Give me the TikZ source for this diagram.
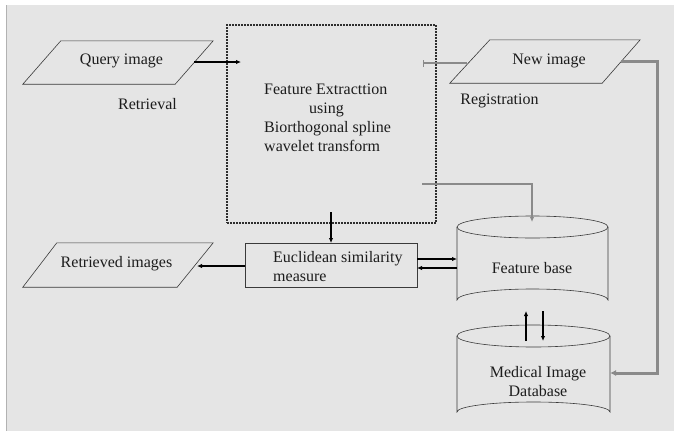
\documentclass[tikz,border=0pt]{standalone}
\usepackage{fontspec}
\setmainfont{Liberation Serif}
\newfontfamily\serifx{Liberation Serif}
\usetikzlibrary{arrows.meta,calc}
\definecolor{bgc}{HTML}{E5E5E5}
\definecolor{txtc}{HTML}{1C1C1C}
\definecolor{linec}{HTML}{3A3A3A}
\definecolor{grayc}{HTML}{8A8A8A}
\tikzset{
  lbl/.style={inner sep=0pt, text=txtc, font=\serifx\fontsize{16}{19}\selectfont},
  shapeline/.style={draw=linec, line width=0.6pt},
  blk/.style={draw=black, line width=1.8pt, -{Latex[length=5pt,width=4.5pt]}},
  gry/.style={draw=grayc, line width=1.5pt, -{Latex[length=5pt,width=4.5pt]}},
  box/.style={inner sep=0pt, draw=none},
}
\begin{document}
\begin{tikzpicture}[x=1pt,y=-1pt]
\useasboundingbox (0,0) rectangle (674,431);
\fill[bgc] (6,5) rectangle (674,431);
\draw[color=gray!60, line width=0.5pt] (6,5) -- (6,431);

% Query image
\node[box, minimum width=190pt, minimum height=43pt] (qbox) at (118,62.5) {};
\draw[shapeline] (qbox.south west) -- ([xshift=38pt]qbox.north west) -- (qbox.north east) -- ([xshift=-38pt]qbox.south east) -- cycle;
\node[lbl] (q) at (121.5,61) {Query image};
\node[lbl] (retr) at (147.5,104) {Retrieval};

% New image
\node[box, minimum width=190pt, minimum height=43pt] (nbox) at (545,61.5) {};
\draw[shapeline] (nbox.south west) -- ([xshift=40pt]nbox.north west) -- (nbox.north east) -- ([xshift=-38pt]nbox.south east) -- cycle;
\node[lbl] (n) at (549,61) {New image};
\node[lbl] (reg) at (499.5,101) {Registration};

% Retrieved images
\node[box, minimum width=190pt, minimum height=44pt] (rbox) at (118,265) {};
\draw[shapeline] (rbox.south west) -- ([xshift=34pt]rbox.north west) -- (rbox.north east) -- ([xshift=-36pt]rbox.south east) -- cycle;
\node[lbl] (r) at (116.5,264) {Retrieved images};

% Feature extraction (dashed box)
\node[box, minimum width=209pt, minimum height=198pt, draw=linec!80!black, line width=1.3pt, dash pattern=on 2pt off 1pt] (fe) at (331.5,124) {};
\node[lbl, align=left, anchor=north west] (fet) at (264,84) {Feature Extracttion\\\hspace{45pt}using\\Biorthogonal spline\\wavelet transform};

% Euclidean box
\node[box, minimum width=172pt, minimum height=44pt, draw=linec, line width=0.6pt] (eu) at (331,265) {};
\node[lbl, align=left, anchor=west] (eut) at (273,266.5) {Euclidean similarity\\measure};

% Feature base cylinder
\draw[shapeline] (457,227) -- (457,300) arc (180:360:75.5 and 11) -- (608,227);
\draw[shapeline] (532.5,227) ellipse (75.5 and 11);
\node[lbl] (fb) at (532,268) {Feature base};

% Medical image database cylinder
\draw[shapeline] (457,336) -- (457,412) arc (180:360:76.5 and 10) -- (610,336);
\draw[shapeline] (533.5,336) ellipse (76.5 and 11);
\node[lbl, align=center] (mdb) at (538,382) {Medical Image\\Database};

% connection points
\coordinate (qR) at (194,62);
\coordinate (feL) at (241,62);
\coordinate (nL) at (467,63);
\coordinate (feR1) at (423,63);
\coordinate (nR) at (621,61);
\coordinate (mdbR) at (610,373);
\coordinate (feR2) at (422,184);
\coordinate (fbT) at (532,222);
\coordinate (feB) at (331,212);
\coordinate (euT) at (331,243);
\coordinate (euL) at (245,266);
\coordinate (rR) at (197,266);
\coordinate (euR1) at (417,259);
\coordinate (fbL1) at (457,259);
\coordinate (euR2) at (417,268);
\coordinate (fbL2) at (457,268);
\coordinate (fbB1) at (526,311);
\coordinate (mdbT1) at (526,341);
\coordinate (fbB2) at (543,311);
\coordinate (mdbT2) at (543,341);

% connectors
\draw[blk, line width=1.6pt] (qR) -- (feL);
\draw[draw=grayc, line width=1.5pt, -{Bar[width=7pt,line width=1.2pt]}] (nL) -- (feR1);
\draw[gry, line width=3pt, -{Latex[length=6pt,width=6pt]}] (nR) -- (657,61) -- (657,373) -- (mdbR);
\draw[gry] (feR2) -- (532,184) -- (fbT);
\draw[blk, line width=2.2pt] (feB) -- (euT);
\draw[blk] (euL) -- (rR);
\draw[blk, line width=1.5pt] (euR1) -- (fbL1);
\draw[blk, line width=2.4pt] (fbL2) -- (euR2);
\draw[blk] (mdbT1) -- (fbB1);
\draw[blk] (fbB2) -- (mdbT2);
\end{tikzpicture}
\end{document}
